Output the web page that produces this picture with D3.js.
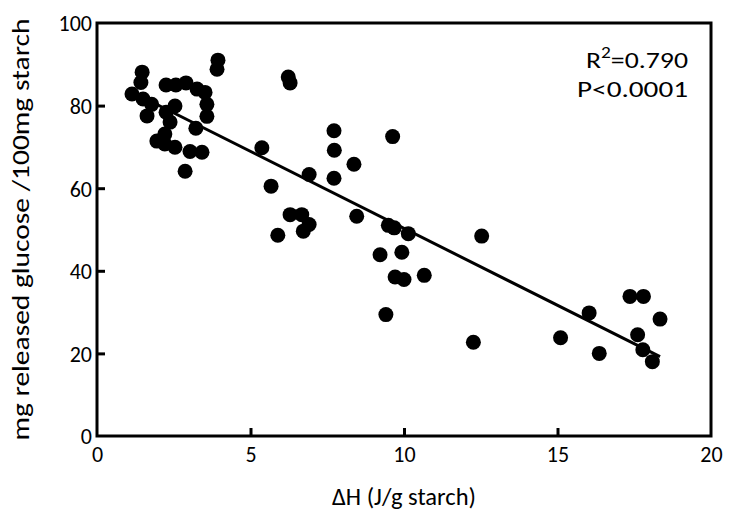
<!DOCTYPE html>
<html>
<head>
<meta charset="utf-8">
<script src="https://cdn.jsdelivr.net/npm/d3@7"></script>
<style>
  body { margin: 0; background: #fff; }
  svg text { font-family: Carlito, Calibri, Lato, sans-serif; fill: #000; }
</style>
</head>
<body>
<svg id="chart" width="729" height="514"></svg>
<script>
// values
var enthalpy = [1.14, 1.47, 1.43, 1.50, 1.78, 1.63, 1.95, 2.21, 2.25, 2.57, 2.90, 3.26, 3.52, 3.58, 3.58, 3.22,
    2.54, 2.25, 2.38, 2.21, 2.54, 3.03, 3.42, 2.87, 3.94, 3.91,
    6.23, 6.29, 7.72, 9.63, 7.73, 5.37, 8.37, 6.91, 7.72, 5.67, 6.29, 6.67, 6.91, 6.72, 5.89,
    8.46, 9.49, 9.68, 10.14, 9.22, 9.93, 12.53, 9.71, 10.00, 10.66, 9.41, 12.26,
    15.10, 16.03, 16.36, 17.36, 17.80, 18.34, 17.61, 17.78, 18.09];
var glucose = [82.8, 88.1, 85.6, 81.6, 80.3, 77.5, 71.4, 70.7, 85.0, 85.0, 85.5, 84.0, 83.2, 80.3, 77.4, 74.5,
    79.9, 78.4, 76.0, 73.1, 69.9, 68.9, 68.7, 64.1, 91.0, 88.8,
    86.9, 85.5, 73.9, 72.5, 69.2, 69.8, 65.8, 63.3, 62.4, 60.5, 53.6, 53.6, 51.2, 49.6, 48.6,
    53.2, 51.0, 50.4, 49.0, 43.9, 44.5, 48.4, 38.5, 37.9, 38.9, 29.4, 22.7,
    23.8, 29.8, 20.0, 33.8, 33.8, 28.3, 24.5, 20.9, 18.0];
var fitX = [1.14, 18.34];
var fitY = [83.3, 19.2];
var xTicks = [0, 5, 10, 15, 20];
var yTicks = [0, 20, 40, 60, 80, 100];
var statLines = ["P<0.0001"];

var svg = d3.select("#chart");
var margin = {left: 97, right: 18, top: 23, bottom: 78};
var W = 729, H = 514;

var x = d3.scaleLinear().domain([0, 20]).range([margin.left, W - margin.right]);
var y = d3.scaleLinear().domain([0, 100]).range([H - margin.bottom, margin.top]);

var pts = enthalpy.map(function (d, i) { return {x: d, y: glucose[i]}; });

//**** frame
svg.append("rect")
    .attr("x", x(0)).attr("y", y(100))
    .attr("width", x(20) - x(0)).attr("height", y(0) - y(100))
    .attr("fill", "none").attr("stroke", "#000").attr("stroke-width", 3);

//**** ticks (inward) + labels
var xAxis = d3.axisBottom(x).tickValues(xTicks).tickSize(-8).tickPadding(10).tickFormat(d3.format("d"));
var gx = svg.append("g").attr("transform", "translate(0," + y(0) + ")").call(xAxis);
var yAxis = d3.axisLeft(y).tickValues(yTicks).tickSize(-8).tickPadding(5).tickFormat(d3.format("d"));
var gy = svg.append("g").attr("transform", "translate(" + x(0) + ",0)").call(yAxis);

[gx, gy].forEach(function (g) {
    g.select(".domain").remove();
    g.selectAll(".tick line").attr("stroke", "#000").attr("stroke-width", 3);
    g.selectAll(".tick text").style("font-size", "22px").attr("fill", "#000");
});
gx.selectAll(".tick").filter(function (d) { return d === 0 || d === 20; }).select("line").remove();
gy.selectAll(".tick").filter(function (d) { return d === 0 || d === 100; }).select("line").remove();
gy.selectAll(".tick text").attr("dy", "0.36em");

//**** axis titles
svg.append("text")
    .attr("x", (x(0) + x(20)) / 2).attr("y", 505)
    .attr("text-anchor", "middle").style("font-size", "24px")
    .attr("textLength", 144).attr("lengthAdjust", "spacingAndGlyphs")
    .text("\u0394H (J/g starch)");

svg.append("text")
    .attr("transform", "translate(29," + ((y(0) + y(100)) / 2) + ") rotate(-90)")
    .attr("text-anchor", "middle").style("font-size", "24px")
    .attr("textLength", 422).attr("lengthAdjust", "spacingAndGlyphs")
    .text("mg released glucose /100mg starch");

//**** regression line
svg.append("line")
    .attr("x1", x(fitX[0])).attr("y1", y(fitY[0]))
    .attr("x2", x(fitX[1])).attr("y2", y(fitY[1]))
    .attr("stroke", "#000").attr("stroke-width", 3);

//**** points
svg.append("g").selectAll("circle")
    .data(pts)
    .enter().append("circle")
    .attr("cx", function (d) { return x(d.x); })
    .attr("cy", function (d) { return y(d.y); })
    .attr("r", 7.5)
    .attr("fill", "#000");

//**** stats text
var r2 = svg.append("text").attr("x", 688).attr("y", 68)
    .attr("text-anchor", "end").style("font-size", "23px")
    .attr("textLength", 102).attr("lengthAdjust", "spacingAndGlyphs");
r2.append("tspan").text("R");
r2.append("tspan").attr("dy", -10).style("font-size", "16px").text("2");
r2.append("tspan").attr("dy", 10).text("=0.790");

svg.append("text").attr("x", 688).attr("y", 97)
    .attr("text-anchor", "end").style("font-size", "23px")
    .attr("textLength", 111).attr("lengthAdjust", "spacingAndGlyphs")
    .text(statLines[0]);
</script>
</body>
</html>
